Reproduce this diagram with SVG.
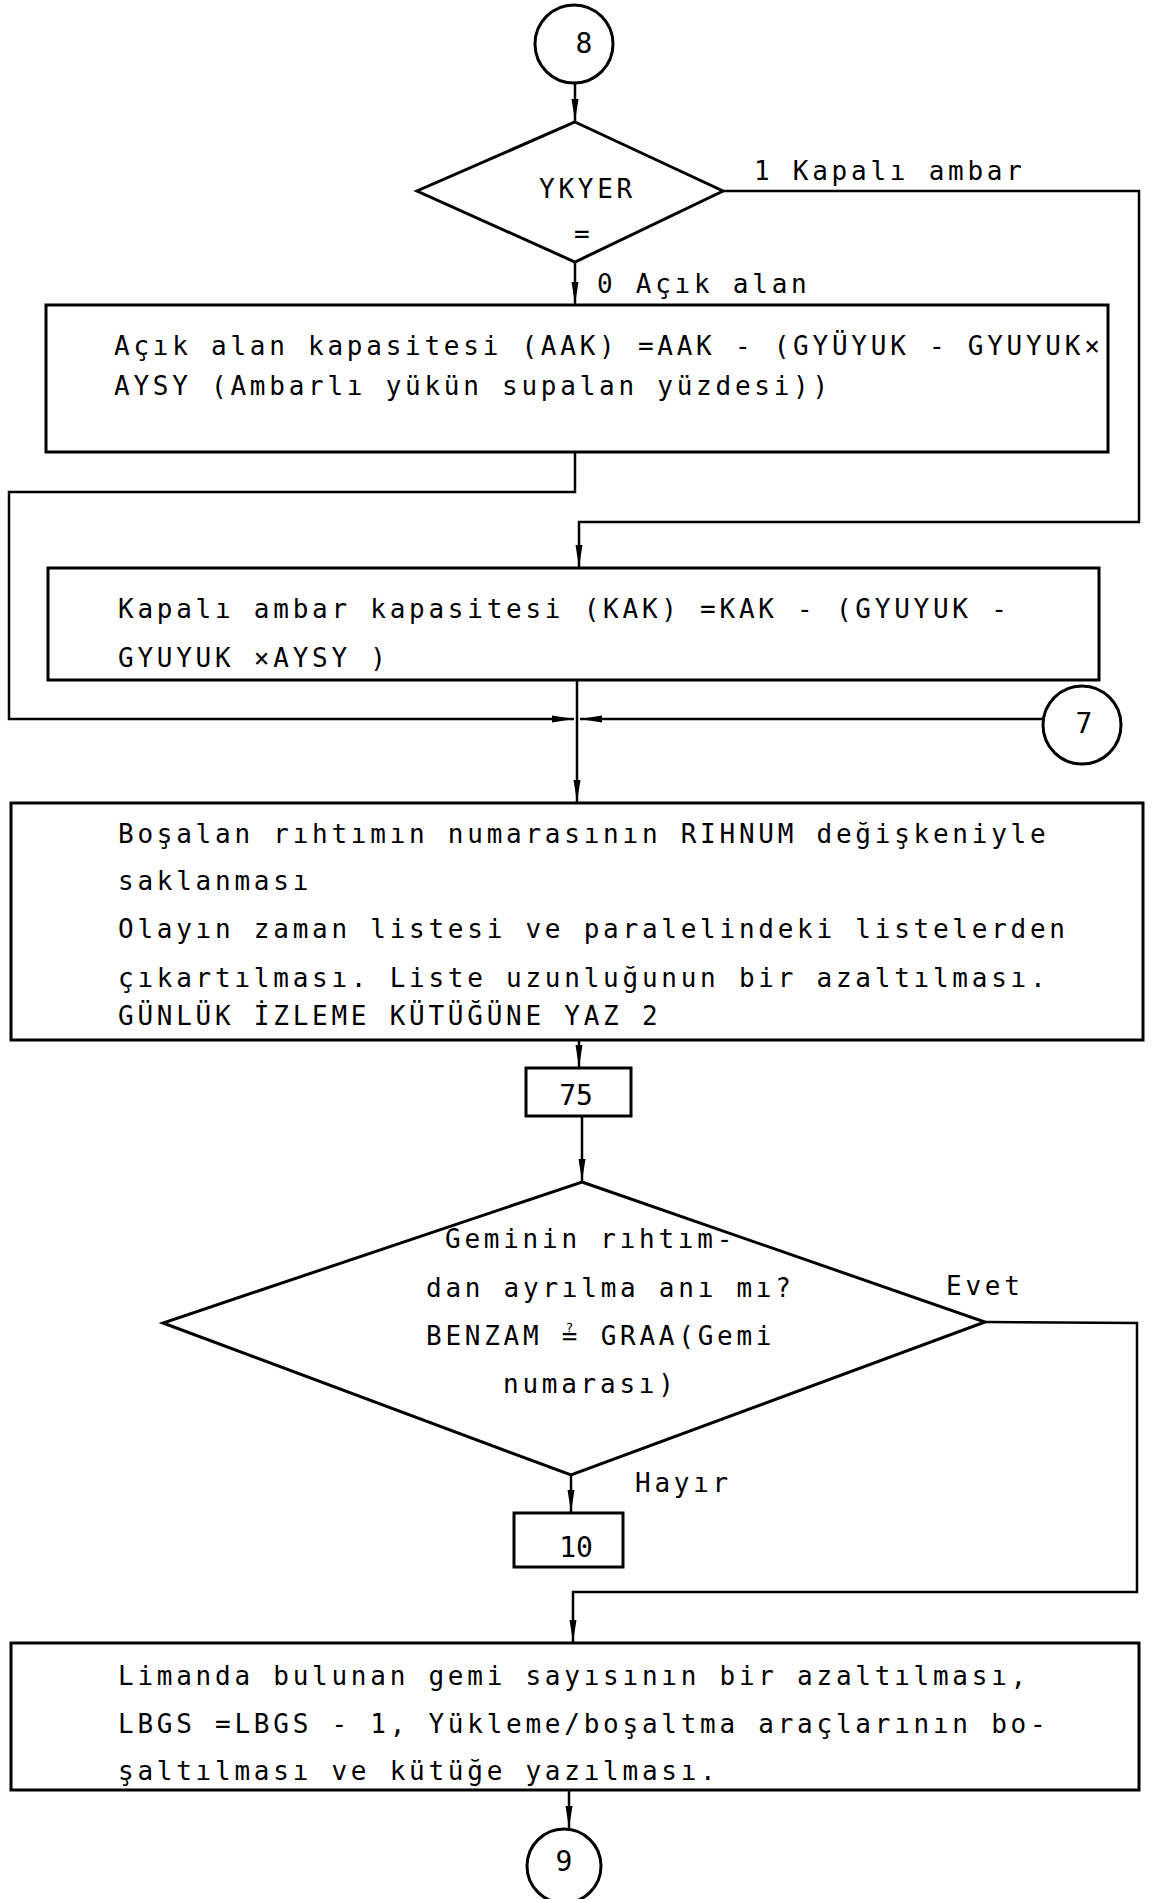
<svg xmlns="http://www.w3.org/2000/svg" width="1152" height="1899" viewBox="0 0 1152 1899">
<style>
  .shape { fill: none; stroke: #000; stroke-width: 3; }
  .conn { fill: none; stroke: #000; stroke-width: 2.5; }
  .t { font-family: "DejaVu Sans Mono", "Liberation Mono", monospace; font-size: 26px; letter-spacing: 3.75px; fill: #000; }
  .c { font-family: "DejaVu Sans Mono", "Liberation Mono", monospace; font-size: 28px; fill: #000; text-anchor: middle; }
</style>
<defs>
  <marker id="arr" markerUnits="userSpaceOnUse" markerWidth="22" markerHeight="8" refX="22" refY="4" orient="auto">
    <path d="M0,0.5 L22,4 L0,7.5 z" fill="#000"/>
  </marker>
</defs>
<rect width="1152" height="1899" fill="#fff"/>

<g id="connectors">
  <line class="conn" x1="575" y1="83" x2="575" y2="121" marker-end="url(#arr)"/>
  <line class="conn" x1="575" y1="262" x2="575" y2="304" marker-end="url(#arr)"/>
  <polyline class="conn" points="723,191 1139,191 1139,522 579,522 579,567" marker-end="url(#arr)"/>
  <polyline class="conn" points="575,452 575,492 9,492 9,719 574,719" marker-end="url(#arr)"/>
  <line class="conn" x1="1043" y1="719" x2="580" y2="719" marker-end="url(#arr)"/>
  <line class="conn" x1="577" y1="680" x2="577" y2="802" marker-end="url(#arr)"/>
  <line class="conn" x1="579" y1="1040" x2="579" y2="1067" marker-end="url(#arr)"/>
  <line class="conn" x1="582" y1="1116" x2="582" y2="1181" marker-end="url(#arr)"/>
  <polyline class="conn" points="985,1322 1137,1323 1137,1592 573,1592 573,1642" marker-end="url(#arr)"/>
  <line class="conn" x1="571" y1="1475" x2="571" y2="1512" marker-end="url(#arr)"/>
  <line class="conn" x1="569" y1="1790" x2="569" y2="1828" marker-end="url(#arr)"/>
  <text class="t" x="754" y="180">1 Kapalı ambar</text>
  <text class="t" x="597" y="293">0 Açık alan</text>
  <text class="t" x="946" y="1295">Evet</text>
  <text class="t" x="635" y="1492">Hayır</text>
</g>

<g id="n8">
  <circle class="shape" cx="574" cy="44" r="39"/>
  <text class="c" x="584" y="53">8</text>
</g>

<g id="ykyer">
  <polygon class="shape" points="575,122 723,191 575,262 417,191"/>
  <text class="t" x="539" y="198">YKYER</text>
  <text class="t" x="574" y="243">=</text>
</g>

<g id="aak">
  <rect class="shape" x="46" y="305" width="1062" height="147"/>
  <text class="t" x="114" y="355">Açık alan kapasitesi (AAK) =AAK - (GYÜYUK - GYUYUK×</text>
  <text class="t" x="114" y="395">AYSY (Ambarlı yükün supalan yüzdesi))</text>
</g>

<g id="kak">
  <rect class="shape" x="48" y="568" width="1051" height="112"/>
  <text class="t" x="118" y="618">Kapalı ambar kapasitesi (KAK) =KAK - (GYUYUK -</text>
  <text class="t" x="118" y="667">GYUYUK ×AYSY )</text>
</g>

<g id="n7">
  <circle class="shape" cx="1082" cy="725" r="39"/>
  <text class="c" x="1084" y="733">7</text>
</g>

<g id="rihnum">
  <rect class="shape" x="11" y="803" width="1132" height="237"/>
  <text class="t" x="118" y="843">Boşalan rıhtımın numarasının RIHNUM değişkeniyle</text>
  <text class="t" x="118" y="890">saklanması</text>
  <text class="t" x="118" y="938">Olayın zaman listesi ve paralelindeki listelerden</text>
  <text class="t" x="118" y="987">çıkartılması. Liste uzunluğunun bir azaltılması.</text>
  <text class="t" x="118" y="1025">GÜNLÜK İZLEME KÜTÜĞÜNE YAZ 2</text>
</g>

<g id="n75">
  <rect class="shape" x="526" y="1068" width="105" height="48"/>
  <text class="c" x="576" y="1105">75</text>
</g>

<g id="geminin">
  <polygon class="shape" points="582,1182 985,1322 571,1475 163,1323"/>
  <text class="t" x="445" y="1248">Geminin rıhtım-</text>
  <text class="t" x="426" y="1297">dan ayrılma anı mı?</text>
  <text class="t" x="426" y="1345">BENZAM ≟ GRAA(Gemi</text>
  <text class="t" x="503" y="1393">numarası)</text>
</g>

<g id="n10">
  <rect class="shape" x="514" y="1513" width="109" height="54"/>
  <text class="c" x="576" y="1557">10</text>
</g>

<g id="lbgs">
  <rect class="shape" x="11" y="1643" width="1128" height="147"/>
  <text class="t" x="118" y="1685">Limanda bulunan gemi sayısının bir azaltılması,</text>
  <text class="t" x="118" y="1733">LBGS =LBGS - 1, Yükleme/boşaltma araçlarının bo-</text>
  <text class="t" x="118" y="1780">şaltılması ve kütüğe yazılması.</text>
</g>

<g id="n9">
  <circle class="shape" cx="564" cy="1866" r="37"/>
  <text class="c" x="564" y="1871">9</text>
</g>
</svg>
